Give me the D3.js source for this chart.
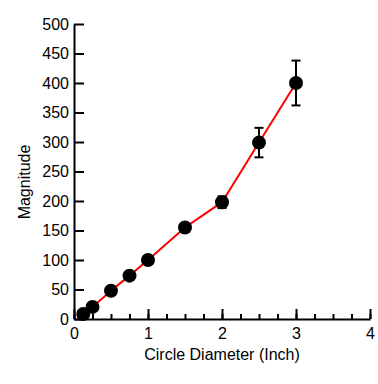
<!DOCTYPE html>
<html>
<head>
<meta charset="utf-8">
<script src="https://cdn.jsdelivr.net/npm/d3@7"></script>
<style>
  body { margin: 0; background: #fff; }
  text { font-family: "Liberation Sans", Arial, sans-serif; fill: #000; }
</style>
</head>
<body>
<div id="chart"></div>
<script>
// data
const diameters = [0.125, 0.25, 0.5, 0.75, 1, 1.5, 2, 2.5, 3];
const magnitudes = [8.5, 20.5, 48, 73.5, 100, 155, 198, 299, 400];
const errors = [2, 3, 3, 4, 4, 5, 10, 25, 38];
const xTicks = [0, 1, 2, 3, 4];
const yTicks = [0, 50, 100, 150, 200, 250, 300, 350, 400, 450, 500];

const width = 378, height = 384;
const margin = {top: 24, right: 8, bottom: 65, left: 74};

const svg = d3.select("#chart").append("svg")
    .attr("width", width)
    .attr("height", height);

const x = d3.scaleLinear().domain([0, 4]).range([margin.left, width - margin.right]);
const y = d3.scaleLinear().domain([0, 500]).range([height - margin.bottom, margin.top]);

// minor x ticks
svg.append("g")
    .attr("transform", `translate(0, ${y(0)})`)
    .call(d3.axisBottom(x).tickValues(d3.range(0, 4.01, 0.25)).tickSizeInner(-5).tickSizeOuter(0).tickFormat(""))
    .call(g => g.select(".domain").remove())
    .call(g => g.selectAll("line").attr("stroke", "#000").attr("stroke-width", 2));

// x axis
svg.append("g")
    .attr("transform", `translate(0, ${y(0)})`)
    .call(d3.axisBottom(x).tickValues(xTicks).tickSizeInner(-10).tickSizeOuter(0).tickPadding(9).tickFormat(d3.format("d")))
    .call(g => g.select(".domain").attr("stroke", "#000").attr("stroke-width", 2))
    .call(g => g.selectAll("line").attr("stroke", "#000").attr("stroke-width", 2))
    .call(g => g.selectAll("text").attr("font-size", 16).attr("fill", "#000"));

// y axis
svg.append("g")
    .attr("transform", `translate(${x(0)}, 0)`)
    .call(d3.axisLeft(y).tickValues(yTicks).tickSizeInner(-10).tickSizeOuter(0).tickPadding(5))
    .call(g => g.select(".domain").attr("stroke", "#000").attr("stroke-width", 2))
    .call(g => g.selectAll("line").attr("stroke", "#000").attr("stroke-width", 2))
    .call(g => g.selectAll("text").attr("font-size", 16).attr("fill", "#000"));

// axis titles
svg.append("text")
    .attr("x", (x(0) + x(4)) / 2)
    .attr("y", 360)
    .attr("text-anchor", "middle")
    .attr("font-size", 16)
    .text("Circle Diameter (Inch)");

svg.append("text")
    .attr("transform", `translate(30, 182) rotate(-90)`)
    .attr("text-anchor", "middle")
    .attr("font-size", 16)
    .text("Magnitude");

const pts = diameters.map((d, i) => ({x: d, y: magnitudes[i], e: errors[i]}));

// line
svg.append("path")
    .datum(pts)
    .attr("fill", "none")
    .attr("stroke", "#ff0000")
    .attr("stroke-width", 2)
    .attr("d", d3.line().x(d => x(d.x)).y(d => y(d.y)));

// error bars
const eb = svg.append("g").attr("stroke", "#000").attr("stroke-width", 2);
pts.forEach(d => {
    eb.append("line").attr("x1", x(d.x)).attr("x2", x(d.x)).attr("y1", y(d.y - d.e)).attr("y2", y(d.y + d.e));
    eb.append("line").attr("x1", x(d.x) - 4.5).attr("x2", x(d.x) + 4.5).attr("y1", y(d.y + d.e)).attr("y2", y(d.y + d.e));
    eb.append("line").attr("x1", x(d.x) - 4.5).attr("x2", x(d.x) + 4.5).attr("y1", y(d.y - d.e)).attr("y2", y(d.y - d.e));
});

// markers
svg.selectAll(".pt")
    .data(pts)
    .enter().append("circle")
    .attr("class", "pt")
    .attr("cx", d => x(d.x))
    .attr("cy", d => y(d.y))
    .attr("r", 7)
    .attr("fill", "#000");
</script>
</body>
</html>
